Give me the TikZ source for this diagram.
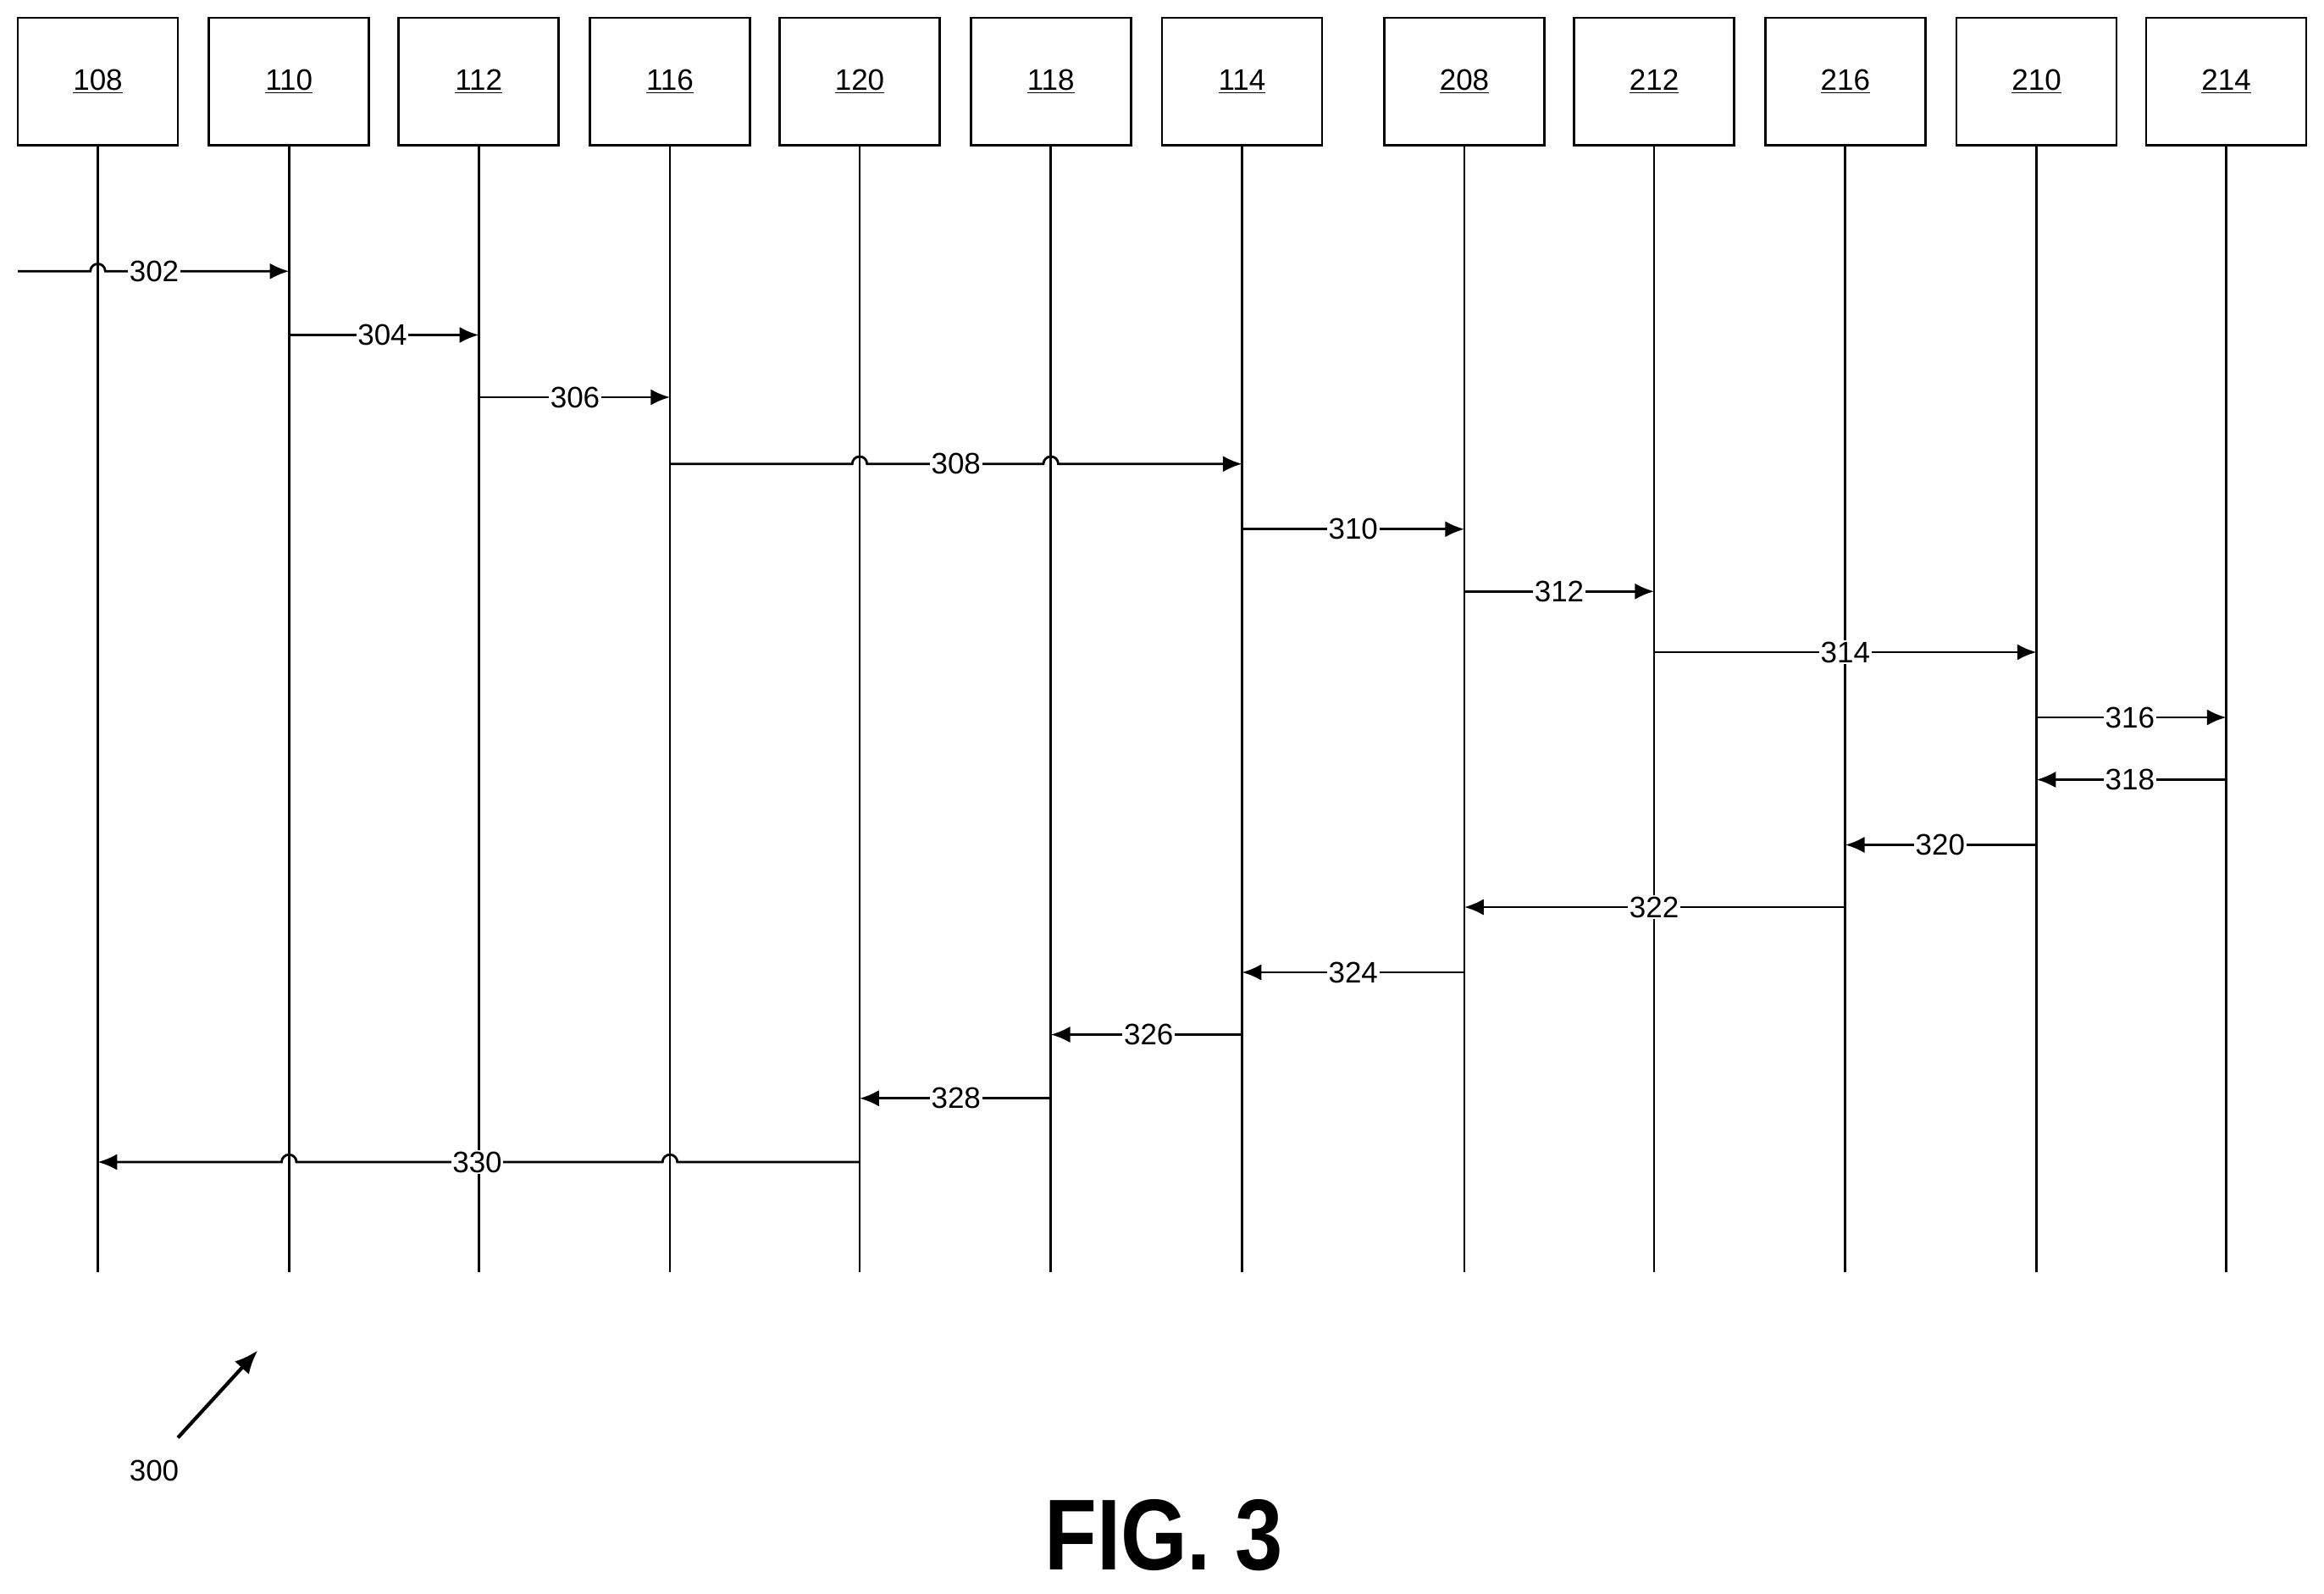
\documentclass[tikz,border=0pt]{standalone}
\usepackage{fontspec}
\setmainfont{Liberation Sans}
\usetikzlibrary{arrows.meta}
\begin{document}
\begin{tikzpicture}[x=1pt,y=-1pt,
 box/.style={draw,line width=1.6pt,minimum width=108pt,minimum height=86pt,inner sep=0pt,font=\fontsize{20}{22}\selectfont},
 life/.style={line width=1.6pt},
 msg/.style={line width=1.6pt,-{Latex[length=13pt,width=11pt]}},
 lab/.style={fill=white,inner sep=1pt,font=\fontsize{20}{22}\selectfont}]
\useasboundingbox (0,0) rectangle (1568,1075);
\foreach \n/\x in {108/66,110/195,112/323,116/452,120/580,118/709,114/838,208/988,212/1116,216/1245,210/1374,214/1502}{
 \node[box] (b\n) at (\x,55) {\underline{\n}};
 \coordinate (e\n) at (\x,858);
 \draw[life] (b\n.south) -- (e\n);
}
\coordinate (start) at (12,183);
\draw[msg] (start) -- (61,183) arc (180:360:5) -- (195,183);
\node[lab] at (104,183) {302};
\draw[msg] (195,226) -- (323,226); \node[lab] at (258,226) {304};
\draw[msg] (323,268) -- (452,268); \node[lab] at (388,268) {306};
\draw[msg] (452,313) -- (575,313) arc (180:360:5) -- (704,313) arc (180:360:5) -- (838,313);
\node[lab] at (645,313) {308};
\draw[msg] (838,357) -- (988,357); \node[lab] at (913,357) {310};
\draw[msg] (988,399) -- (1116,399); \node[lab] at (1052,399) {312};
\draw[msg] (1116,440) -- (1374,440); \node[lab] at (1245,440) {314};
\draw[msg] (1374,484) -- (1502,484); \node[lab] at (1437,484) {316};
\draw[msg] (1502,526) -- (1374,526); \node[lab] at (1437,526) {318};
\draw[msg] (1374,570) -- (1245,570); \node[lab] at (1309,570) {320};
\draw[msg] (1245,612) -- (988,612); \node[lab] at (1116,612) {322};
\draw[msg] (988,656) -- (838,656); \node[lab] at (913,656) {324};
\draw[msg] (838,698) -- (709,698); \node[lab] at (775,698) {326};
\draw[msg] (709,741) -- (580,741); \node[lab] at (645,741) {328};
\draw[msg] (580,784) -- (457,784) arc (0:-180:5) -- (200,784) arc (0:-180:5) -- (66,784);
\node[lab] at (322,784) {330};
\node[font=\fontsize{20}{22}\selectfont] (ref) at (104,992) {300};
\coordinate (tip) at (174,911);
\draw[line width=2.4pt,-{Latex[length=16pt,width=13pt]}] (120,970) -- (tip);
\node[font=\bfseries\fontsize{68}{76}\selectfont,xscale=0.85] (fig) at (785,1036) {FIG. 3};
\end{tikzpicture}
\end{document}
